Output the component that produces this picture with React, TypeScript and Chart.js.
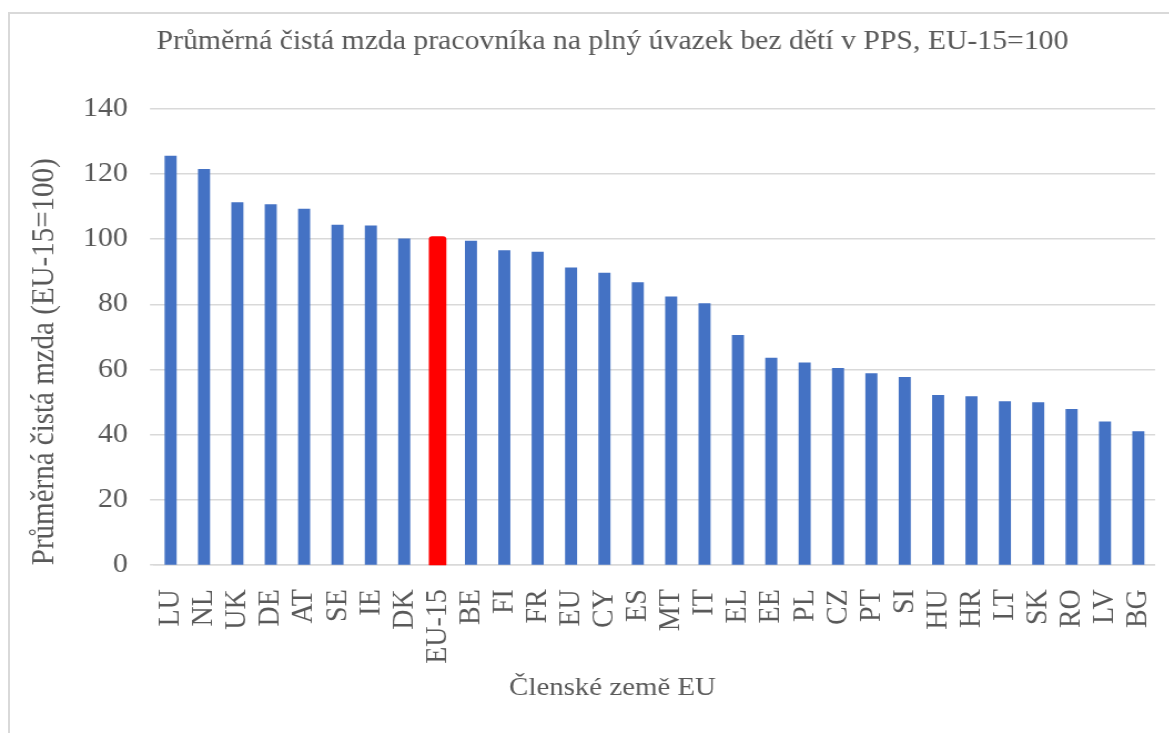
import React, { useEffect, useRef } from 'react';
import { Chart, registerables } from 'chart.js';

Chart.register(...registerables);

// ---------- data ----------
const categories = ['LU', 'NL', 'UK', 'DE', 'AT', 'SE', 'IE', 'DK', 'EU-15', 'BE', 'FI', 'FR', 'EU', 'CY', 'ES', 'MT', 'IT', 'EL', 'EE', 'PL', 'CZ', 'PT', 'SI', 'HU', 'HR', 'LT', 'SK', 'RO', 'LV', 'BG'];
const values = [125.5, 121.4, 111.2, 110.6, 109.2, 104.3, 104.1, 100.1, 100.0, 99.4, 96.5, 96.0, 91.2, 89.6, 86.7, 82.3, 80.2, 70.5, 63.5, 62.1, 60.4, 58.8, 57.6, 52.1, 51.7, 50.2, 49.9, 47.8, 44.0, 41.0];
const highlightedCategory = 'EU-15';
const yTickValues = [0, 20, 40, 60, 80, 100, 120, 140];

const chartTitle = 'Průměrná čistá mzda pracovníka na plný úvazek bez dětí v PPS, EU-15=100';
const xAxisTitle = 'Členské země EU';
const yAxisTitle = 'Průměrná čistá mzda (EU-15=100)';

// ---------- styling ----------
const BLUE = '#4472C4';
const RED = '#FF0000';
const TEXT = '#595959';
const GRID = '#D9D9D9';
const FONT = '"Liberation Serif", "Times New Roman", serif';

const SX = 1.11; // horizontal stretch of the reference
const CSS_W = 1225;
const CSS_H = 733;
const CANVAS_W = Math.round(CSS_W / SX);

const PLOT_LEFT = 154;
const PLOT_RIGHT = 1155;

export default function App() {
  const canvasRef = useRef<HTMLCanvasElement | null>(null);

  useEffect(() => {
    if (!canvasRef.current) return;
    const yTitleFont = 29;
    const titleFont = 26.8;
    const chart = new Chart(canvasRef.current, {
      type: 'bar',
      data: {
        labels: categories,
        datasets: [
          {
            data: values,
            backgroundColor: categories.map((c) => (c === highlightedCategory ? RED : BLUE)),
            borderWidth: 0,
            inflateAmount: ((ctx: any) => (categories[ctx.dataIndex] === highlightedCategory ? 2.8 : 0.33)) as any,
            borderRadius: ((ctx: any) => (categories[ctx.dataIndex] === highlightedCategory ? 3 : 0)) as any,
            borderSkipped: false,
            barPercentage: 0.34,
            categoryPercentage: 1,
          },
        ],
      },
      options: {
        responsive: false,
        animation: false,
        devicePixelRatio: 1,
        layout: { padding: 0 },
        plugins: {
          legend: { display: false },
          tooltip: { enabled: false },
          title: {
            display: true,
            text: chartTitle,
            color: TEXT,
            font: { family: FONT, size: titleFont, weight: 'normal' },
            padding: { top: 42 - (titleFont * 1.2) / 2, bottom: 108.7 - 42 - (titleFont * 1.2) / 2 },
          },
          subtitle: {
            display: true,
            position: 'bottom',
            text: xAxisTitle,
            color: TEXT,
            font: { family: FONT, size: 26, weight: 'normal' },
            padding: { top: 0, bottom: 29.4 },
          },
        },
        scales: {
          x: {
            type: 'category',
            grid: { display: false },
            border: { display: true, color: GRID, width: 1.5 },
            ticks: {
              color: TEXT,
              font: { family: FONT, size: 28 },
              minRotation: 90,
              maxRotation: 90,
              autoSkip: false,
              padding: 16,
            },
            afterFit: (s: any) => {
              s.height = 107.2;
            },
          },
          y: {
            type: 'linear',
            min: 0,
            max: 140,
            afterBuildTicks: (s: any) => {
              s.ticks = yTickValues.map((v) => ({ value: v }));
            },
            grid: { color: GRID, lineWidth: 1.5, drawTicks: true, tickLength: 4 / SX, tickColor: GRID },
            border: { display: false },
            ticks: {
              color: TEXT,
              font: { family: FONT, size: 27 },
              padding: 22 / SX,
            },
            title: {
              display: true,
              text: yAxisTitle,
              color: TEXT,
              align: 'start',
              font: { family: FONT, size: yTitleFont },
              padding: { top: 45 / SX - (yTitleFont * 1.2) / 2, bottom: 0 },
            },
            afterFit: (s: any) => {
              s.width = PLOT_LEFT / SX;
            },
          },
          spacer: {
            type: 'linear',
            position: 'right',
            display: true,
            grid: { display: false },
            border: { display: false },
            ticks: { display: false },
            afterFit: (s: any) => {
              s.width = (CSS_W - PLOT_RIGHT) / SX;
            },
          },
        },
      },
    } as any);
    return () => chart.destroy();
  }, []);

  return (
    <div style={{ position: 'absolute', left: 0, top: 0, width: 1169, height: 733, overflow: 'hidden', background: '#fff' }}>
      <div
        style={{
          position: 'absolute',
          left: 8,
          top: 12,
          width: 1300,
          height: 900,
          border: `2px solid ${GRID}`,
          boxSizing: 'border-box',
        }}
      />
      <canvas
        ref={canvasRef}
        width={CANVAS_W}
        height={CSS_H}
        style={{ position: 'absolute', left: 0, top: 0, width: `${CSS_W}px`, height: `${CSS_H}px`, display: 'block' }}
      />
    </div>
  );
}
